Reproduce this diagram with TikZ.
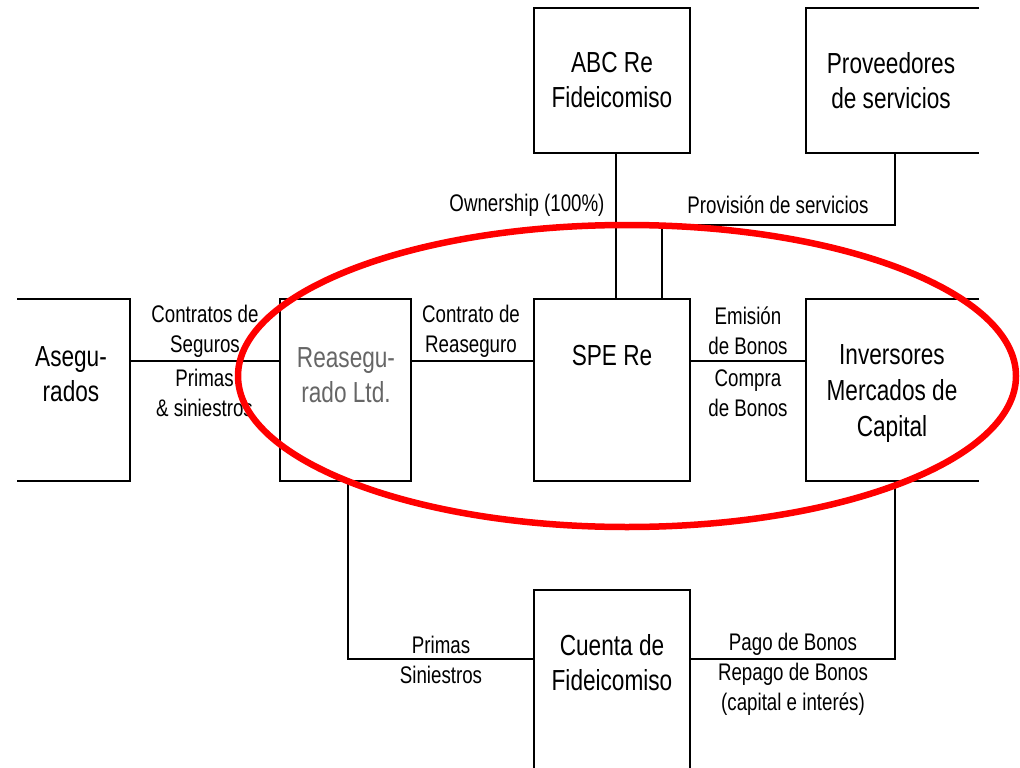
\documentclass[tikz,border=0pt]{standalone}
\usepackage{fontspec}
\setmainfont[FakeStretch=0.78]{Liberation Sans}
\begin{document}
\begin{tikzpicture}[x=1pt,y=-1pt, line width=2.2pt,
  boxshape/.style={rectangle, draw, inner sep=0pt, outer sep=0pt},
  openbox/.style={rectangle, draw=none, inner sep=0pt, outer sep=0pt},
  boxtext/.style={font=\fontsize{29}{35}\selectfont, align=center, inner sep=0pt},
  lbl/.style={font=\fontsize{24}{30}\selectfont, align=center, inner sep=0pt},
  ring/.style={draw=red, line width=6.5pt}]
\useasboundingbox (0,0) rectangle (1020,768);
\clip (0,0) rectangle (1020,768);
% boxes
\node[openbox, minimum width=113pt, minimum height=182pt] (asg) at (73.5,390) {};
\node[boxshape, minimum width=131pt, minimum height=182pt] (reas) at (345.5,390) {};
\node[boxshape, minimum width=156pt, minimum height=182pt] (spe) at (612,390) {};
\node[openbox, minimum width=173pt, minimum height=182pt] (inv) at (892.5,390) {};
\node[boxshape, minimum width=156pt, minimum height=145pt] (abc) at (612,80.5) {};
\node[openbox, minimum width=173pt, minimum height=145pt] (prov) at (892.5,80.5) {};
\node[openbox, minimum width=156pt, minimum height=210pt] (cta) at (612,695) {};
\draw (asg.north west) -- (asg.north east) -- (asg.south east) -- (asg.south west);
\draw (inv.north east) -- (inv.north west) -- (inv.south west) -- (inv.south east);
\draw (prov.north east) -- (prov.north west) -- (prov.south west) -- (prov.south east);
\draw (cta.south west) -- (cta.north west) -- (cta.north east) -- (cta.south east);
% box texts
\node[boxtext] (tasg) at (71,374) {Asegu-\\rados};
\node[boxtext, text=black!60] (treas) at (346,375.5) {Reasegu-\\rado Ltd.};
\node[boxtext] (tspe) at (612,356) {SPE Re};
\node[boxtext, font=\fontsize{29}{36}\selectfont] (tinv) at (892,394) {Inversores\\Mercados de\\Capital};
\node[boxtext] (tabc) at (612,80.5) {ABC Re\\Fideicomiso};
\node[boxtext] (tprov) at (891,80.5) {Proveedores\\de servicios};
\node[boxtext] (tcta) at (612,663) {Cuenta de\\Fideicomiso};
% connectors
\coordinate (midrow) at (0,361);
\draw (asg.east |- midrow) -- (reas.west |- midrow);
\draw (reas.east |- midrow) -- (spe.west |- midrow);
\draw (spe.east |- midrow) -- (inv.west |- midrow);
\coordinate (own) at (616,0);
\draw (abc.south -| own) -- (spe.north -| own);
\coordinate (provx) at (662,225);
\coordinate (pv) at (895,0);
\draw (spe.north -| provx) -- (provx) -- (provx -| pv) -- (prov.south -| pv);
\coordinate (bl) at (348,659);
\draw (reas.south -| bl) -- (bl) -- (cta.west |- bl);
\coordinate (br) at (895,659);
\draw (cta.east |- br) -- (br) -- (inv.south -| br);
% labels
\node[lbl] (l1) at (527,205) {Ownership (100\%)};
\node[lbl] (l2) at (778,205) {Provisión de servicios};
\node[lbl] (l3) at (205,331) {Contratos de\\Seguros};
\node[lbl] (l4) at (204.5,393) {Primas\\\& siniestros};
\node[lbl] (l5) at (471,331) {Contrato de\\Reaseguro};
\node[lbl] (l6) at (748,331) {Emisión\\de Bonos};
\node[lbl] (l7) at (748,393) {Compra\\de Bonos};
\node[lbl] (l8) at (441,659.5) {Primas\\Siniestros};
\node[lbl] (l9) at (793,674) {Pago de Bonos\\Repago de Bonos\\(capital e interés)};
% red ring
\draw[ring] (627,376) ellipse [x radius=389, y radius=151];
\end{tikzpicture}
\end{document}
